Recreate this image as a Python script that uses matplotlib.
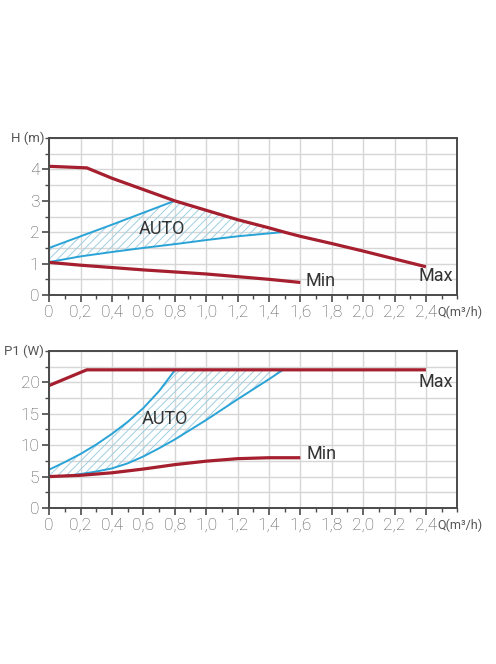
import numpy as np
import matplotlib
matplotlib.use('Agg')
import matplotlib.pyplot as plt
from matplotlib.ticker import MultipleLocator, FuncFormatter

plt.rcParams['font.family'] = ['Roboto', 'DejaVu Sans']
plt.rcParams['hatch.linewidth'] = 0.7

RED = '#a51f2f'
BLUE = '#2aa3d6'
HATCH = '#9fcfe3'
TXT = '#333333'
GRID = '#d6d6d6'

# --- H(Q) chart data ---
h_max_q = [0, 0.24, 0.4, 0.6, 0.8, 1.0, 1.2, 1.4, 1.5, 1.6, 1.8, 2.0, 2.2, 2.4]
h_max_v = [4.1, 4.05, 3.72, 3.36, 3.0, 2.7, 2.4, 2.14, 2.0, 1.87, 1.64, 1.4, 1.15, 0.9]
h_min_q = [0, 0.2, 0.6, 1.0, 1.4, 1.6]
h_min_v = [1.04, 0.95, 0.8, 0.67, 0.5, 0.4]
h_auto_up_q = [0, 0.4, 0.8]
h_auto_up_v = [1.5, 2.24, 3.0]
h_auto_lo_q = [0, 0.2, 0.4, 0.6, 0.8, 1.0, 1.2, 1.48]
h_auto_lo_v = [1.05, 1.23, 1.37, 1.5, 1.62, 1.75, 1.87, 2.0]

# --- P1(Q) chart data ---
p_max_q = [0, 0.24, 2.4]
p_max_v = [19.5, 22.0, 22.0]
p_min_q = [0, 0.2, 0.4, 0.6, 0.8, 1.0, 1.2, 1.4, 1.6]
p_min_v = [5.0, 5.2, 5.6, 6.2, 6.9, 7.45, 7.85, 8.0, 8.0]
p_auto_up_q = [0, 0.1, 0.2, 0.3, 0.4, 0.5, 0.6, 0.7, 0.8]
p_auto_up_v = [6.1, 7.3, 8.6, 10.1, 11.8, 13.7, 15.9, 18.6, 21.9]
p_auto_lo_q = [0, 0.1, 0.2, 0.3, 0.4, 0.5, 0.6, 0.7, 0.8, 1.0, 1.2, 1.4, 1.49]
p_auto_lo_v = [5.0, 5.1, 5.4, 5.8, 6.3, 7.1, 8.2, 9.5, 10.9, 14.0, 17.3, 20.5, 22.0]

x_ticks = [0, 0.2, 0.4, 0.6, 0.8, 1.0, 1.2, 1.4, 1.6, 1.8, 2.0, 2.2, 2.4]
h_ticks = [0, 1, 2, 3, 4]
p_ticks = [0, 5, 10, 15, 20]


def comma(v, pos):
    if abs(v) < 1e-9:
        return '0'
    return f'{v:.1f}'.replace('.', ',')


def style_axes(ax, ymax, yticks, yminor, ylabel):
    ax.set_xlim(0, 2.6)
    ax.set_ylim(0, ymax)
    ax.set_xticks(x_ticks)
    ax.xaxis.set_minor_locator(MultipleLocator(0.1))
    ax.xaxis.set_major_formatter(FuncFormatter(comma))
    ax.set_yticks(yticks)
    ax.yaxis.set_minor_locator(MultipleLocator(yminor))
    ax.grid(which='major', axis='x', color=GRID, lw=1.0)
    ax.grid(which='both', axis='y', color=GRID, lw=1.0)
    ax.set_axisbelow(True)
    for s in ax.spines.values():
        s.set_color('#4a4a4a')
        s.set_linewidth(1.4)
    ax.tick_params(which='major', direction='out', length=5, width=1.2,
                   colors='#4a4a4a', labelcolor='#555555', labelsize=12.5, pad=2)
    ax.tick_params(which='minor', direction='out', length=3, width=1.0, colors='#4a4a4a')
    for lab in ax.get_xticklabels() + ax.get_yticklabels():
        lab.set_fontweight('light')
    ax.text(-0.012, 1.0, ylabel, transform=ax.transAxes, ha='right', va='center',
            fontsize=9.5, color='#555555')
    ax.text(2.475, -0.07, 'Q(m³/h)', transform=ax.get_xaxis_transform(), ha='left', va='top',
            fontsize=9, color='#555555')


fig = plt.figure(figsize=(4.96, 6.64), dpi=100)
ax1 = fig.add_axes([0.099, 0.5557, 0.823, 0.2364])
ax2 = fig.add_axes([0.099, 0.2350, 0.823, 0.2364])

# top chart: head
style_axes(ax1, 5, h_ticks, 0.5, 'H (m)')
qq = np.linspace(0, h_auto_lo_q[-1], 200)
top = np.where(qq <= h_auto_up_q[-1], np.interp(qq, h_auto_up_q, h_auto_up_v),
               np.interp(qq, h_max_q, h_max_v))
bot = np.interp(qq, h_auto_lo_q, h_auto_lo_v)
ax1.fill_between(qq, bot, top, facecolor='none', edgecolor=HATCH, hatch='////', lw=0)
ax1.plot(h_auto_up_q, h_auto_up_v, color=BLUE, lw=1.4)
ax1.plot(h_auto_lo_q, h_auto_lo_v, color=BLUE, lw=1.4)
ax1.plot(h_max_q, h_max_v, color=RED, lw=2.3, solid_capstyle='butt')
ax1.plot(h_min_q, h_min_v, color=RED, lw=2.3, solid_capstyle='butt')
ax1.text(0.72, 2.1, 'AUTO', fontsize=13, color=TXT, ha='center', va='center')
ax1.text(1.63, 0.45, 'Min', fontsize=13, color=TXT, ha='left', va='center')
ax1.text(2.46, 0.62, 'Max', fontsize=13, color=TXT, ha='center', va='center')

# bottom chart: power
style_axes(ax2, 25, p_ticks, 2.5, 'P1 (W)')
qq = np.linspace(0, p_auto_lo_q[-1], 200)
top = np.where(qq <= p_auto_up_q[-1], np.interp(qq, p_auto_up_q, p_auto_up_v),
               np.interp(qq, p_max_q, p_max_v))
bot = np.interp(qq, p_auto_lo_q, p_auto_lo_v)
ax2.fill_between(qq, bot, top, facecolor='none', edgecolor=HATCH, hatch='////', lw=0)
ax2.plot(p_auto_up_q, p_auto_up_v, color=BLUE, lw=1.4)
ax2.plot(p_auto_lo_q, p_auto_lo_v, color=BLUE, lw=1.4)
ax2.plot(p_max_q, p_max_v, color=RED, lw=2.3, solid_capstyle='butt')
ax2.plot(p_min_q, p_min_v, color=RED, lw=2.3, solid_capstyle='butt')
ax2.text(0.74, 14.2, 'AUTO', fontsize=13, color=TXT, ha='center', va='center')
ax2.text(1.64, 8.6, 'Min', fontsize=13, color=TXT, ha='left', va='center')
ax2.text(2.46, 20.0, 'Max', fontsize=13, color=TXT, ha='center', va='center')

fig.savefig('out.png', dpi=100)
